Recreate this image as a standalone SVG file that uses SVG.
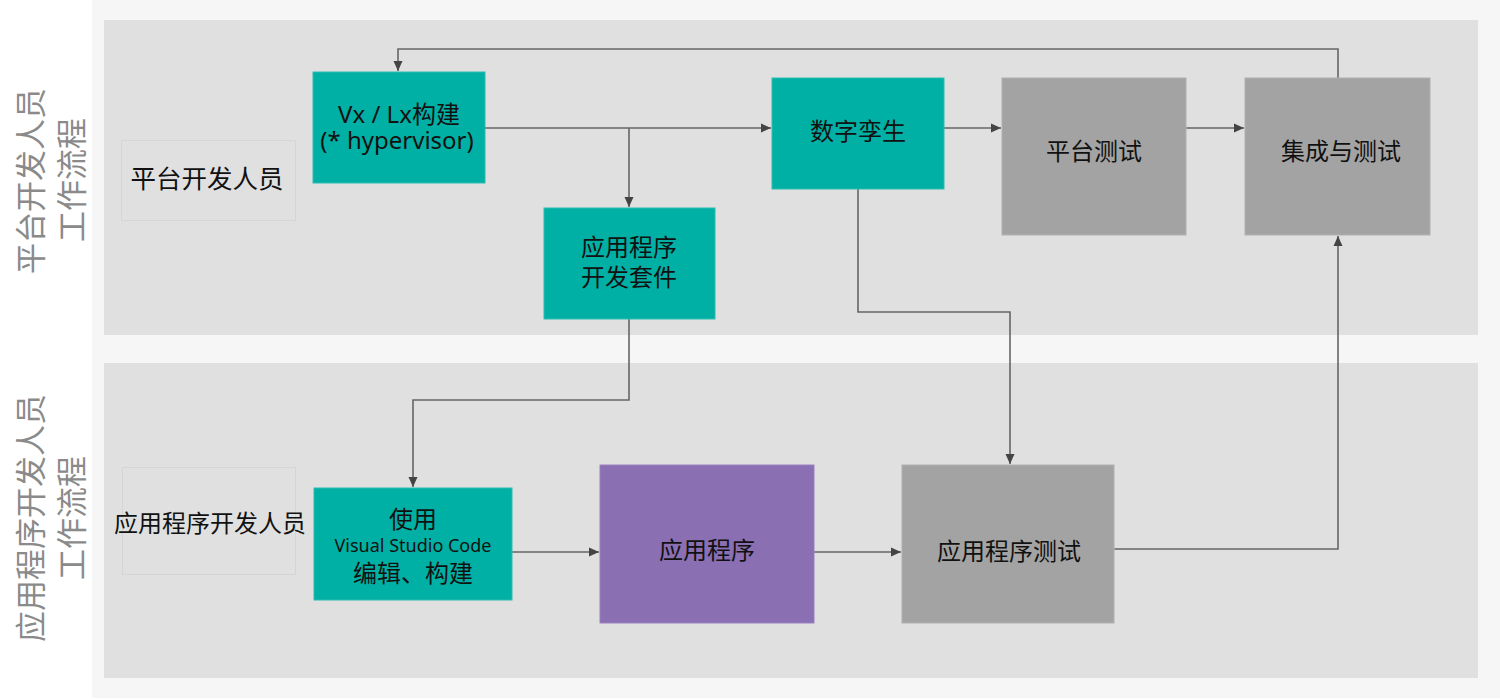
<svg xmlns="http://www.w3.org/2000/svg" width="1500" height="699" viewBox="0 0 1500 699">
<style>
text{font-family:"Noto Sans CJK SC","Noto Sans",sans-serif;fill:#111;text-anchor:middle;dominant-baseline:central}
.lat{font-family:"Noto Sans","Noto Sans CJK SC",sans-serif}
.lane{fill:#e0e0e0}
.side{fill:#8a8a8a;font-size:31px}
.person{fill:none;stroke:#d5d5d5;stroke-width:1}
.pt{font-size:24px}
.teal{fill:#00b0a4;stroke:#2cbcb0;stroke-width:1}
.gray{fill:#a3a3a3;stroke:#b0b0b0;stroke-width:1}
.purple{fill:#8b6fb3;stroke:#9a82be;stroke-width:1}
.nt{font-size:24px}
.sm{font-size:18px}
.c{fill:none;stroke:#666;stroke-width:1.6}
</style>
<defs>
<marker id="ah" viewBox="0 0 10 10" refX="10" refY="5" markerWidth="10" markerHeight="10" markerUnits="userSpaceOnUse" orient="auto">
<path d="M0,0.5 L10,5 L0,9.5 Z" fill="#444"/>
</marker>
</defs>
<rect x="0" y="0" width="1500" height="699" fill="#ffffff"/>
<rect x="92" y="0" width="1408" height="698" fill="#f6f6f6"/>
<g id="lane-platform">
<rect class="lane" x="104" y="20" width="1374" height="315"/>
<text class="side" transform="translate(28,181) rotate(-90)">平台开发人员</text>
<text class="side" transform="translate(69,180) rotate(-90)">工作流程</text>
</g>
<g id="lane-app">
<rect class="lane" x="104" y="363" width="1374" height="315"/>
<text class="side" transform="translate(28,518) rotate(-90)">应用程序开发人员</text>
<text class="side" transform="translate(69,518) rotate(-90)">工作流程</text>
</g>
<g id="person-platform">
<rect class="person" x="121.5" y="140.5" width="174" height="80"/>
<text class="pt" x="207" y="176" style="font-size:25.5px">平台开发人员</text>
</g>
<g id="person-app">
<rect class="person" x="122.5" y="467.5" width="173" height="107"/>
<text class="pt" x="210" y="521">应用程序开发人员</text>
</g>
<g id="connectors">
<path class="c" d="M485,128 H771" marker-end="url(#ah)"/>
<path class="c" d="M629,128 V207" marker-end="url(#ah)"/>
<path class="c" d="M944,128 H1001" marker-end="url(#ah)"/>
<path class="c" d="M1186,128 H1244" marker-end="url(#ah)"/>
<path class="c" d="M1338,78 V49 H398 V71" marker-end="url(#ah)"/>
<path class="c" d="M629,319 V400 H413 V487" marker-end="url(#ah)"/>
<path class="c" d="M858,189 V312 H1010 V464" marker-end="url(#ah)"/>
<path class="c" d="M512,552 H599" marker-end="url(#ah)"/>
<path class="c" d="M814,552 H901" marker-end="url(#ah)"/>
<path class="c" d="M1114,549 H1338 V236" marker-end="url(#ah)"/>
</g>
<g id="node-vxlx">
<rect class="teal" x="313" y="72" width="172" height="111"/>
<text class="nt lat" x="399" y="113">Vx / Lx构建</text>
<text class="nt lat" x="397" y="139">(* hypervisor)</text>
</g>
<g id="node-sdk">
<rect class="teal" x="544" y="208" width="171" height="111"/>
<text class="nt" x="629" y="245">应用程序</text>
<text class="nt" x="629" y="275">开发套件</text>
</g>
<g id="node-twin">
<rect class="teal" x="772" y="78" width="172" height="111"/>
<text class="nt" x="858" y="129">数字孪生</text>
</g>
<g id="node-platform-test">
<rect class="gray" x="1002" y="78" width="184" height="157"/>
<text class="nt" x="1094" y="149">平台测试</text>
</g>
<g id="node-integration">
<rect class="gray" x="1245" y="78" width="185" height="157"/>
<text class="nt" x="1341" y="149">集成与测试</text>
</g>
<g id="node-vscode">
<rect class="teal" x="314" y="488" width="198" height="112"/>
<text class="nt" x="413" y="517">使用</text>
<text class="sm lat" x="413" y="545">Visual Studio Code</text>
<text class="nt" x="413" y="571">编辑、构建</text>
</g>
<g id="node-app">
<rect class="purple" x="600" y="465" width="214" height="158"/>
<text class="nt" x="707" y="548">应用程序</text>
</g>
<g id="node-app-test">
<rect class="gray" x="902" y="465" width="212" height="158"/>
<text class="nt" x="1009" y="549">应用程序测试</text>
</g>
</svg>
